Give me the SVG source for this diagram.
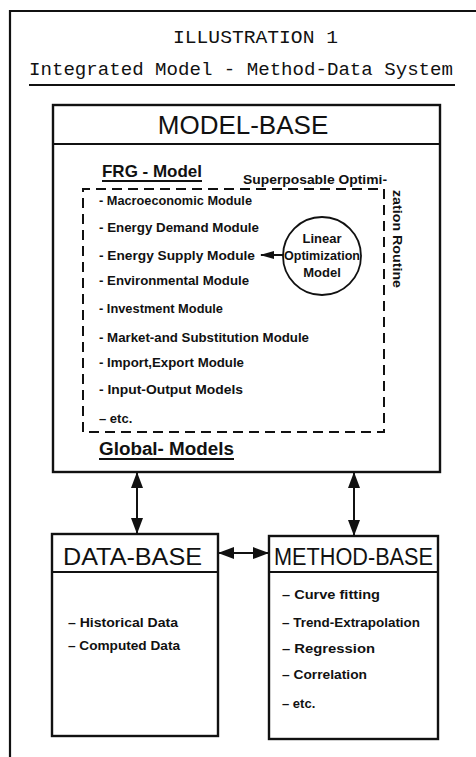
<svg xmlns="http://www.w3.org/2000/svg" width="476" height="757" viewBox="0 0 476 757">
  <style>
    .frame { fill: none; stroke: #111; stroke-width: 2.2; }
    .box { fill: #fff; stroke: #111; stroke-width: 2.4; }
    .rule { stroke: #111; stroke-width: 2.2; fill: none; }
    .dash { fill: none; stroke: #111; stroke-width: 2; stroke-dasharray: 10 6; }
    .mono { font-family: "Liberation Mono", "DejaVu Sans Mono", monospace; fill: #111; font-size: 19px; }
    .head { font-family: "Liberation Sans", Arial, sans-serif; fill: #111; }
    .item { font-family: "Liberation Sans", Arial, sans-serif; font-weight: bold; fill: #111; font-size: 13px; }
    .link { stroke: #111; stroke-width: 2; fill: none; }
  </style>
  <defs>
    <marker id="tip" viewBox="0 0 16 12" refX="15" refY="6" markerWidth="16" markerHeight="12" markerUnits="userSpaceOnUse" orient="auto-start-reverse">
      <path d="M0,0 L16,6 L0,12 Z" fill="#111"/>
    </marker>
    <marker id="tipSmall" viewBox="0 0 14 10" refX="13" refY="5" markerWidth="14" markerHeight="10" markerUnits="userSpaceOnUse" orient="auto">
      <path d="M0,1 L14,5 L0,9 Z" fill="#111"/>
    </marker>
  </defs>

  <rect width="476" height="757" fill="#fff"/>

  <!-- outer frame, open to the right and bottom -->
  <path class="frame" d="M10,757 L10,11 L476,11"/>

  <!-- title block -->
  <g id="title">
    <text class="mono" x="173" y="43" textLength="165" lengthAdjust="spacingAndGlyphs">ILLUSTRATION 1</text>
    <text class="mono" x="29" y="75" textLength="424" lengthAdjust="spacingAndGlyphs">Integrated Model - Method-Data System</text>
    <line class="rule" x1="29" y1="85" x2="455" y2="85" stroke-width="1.8"/>
  </g>

  <!-- model base -->
  <g id="model-base">
    <rect class="box" x="53" y="105" width="387" height="367"/>
    <line class="rule" x1="53" y1="144" x2="440" y2="144"/>
    <text class="head" x="243" y="134" font-size="26" text-anchor="middle">MODEL-BASE</text>
    <text class="head" x="102" y="177" font-size="17" font-weight="bold" textLength="100" lengthAdjust="spacingAndGlyphs">FRG - Model</text>
    <line class="rule" x1="102" y1="181" x2="202" y2="181" stroke-width="1.6"/>
    <text class="head" x="99" y="455" font-size="18" font-weight="bold" textLength="135" lengthAdjust="spacingAndGlyphs">Global- Models</text>
    <line class="rule" x1="99" y1="459" x2="234" y2="459" stroke-width="1.6"/>
  </g>

  <!-- module frame with optimization routine -->
  <g id="frg-modules">
    <path class="dash" d="M83,432 L83,189 L384,189 L384,432 Z"/>
    <text class="head" x="243" y="184" font-size="13" font-weight="bold" textLength="144" lengthAdjust="spacingAndGlyphs">Superposable Optimi-</text>
    <text class="head" font-size="13" font-weight="bold" transform="translate(393,190) rotate(90)" textLength="98" lengthAdjust="spacingAndGlyphs">zation Routine</text>
    <text class="item" x="99" y="205" textLength="153" lengthAdjust="spacingAndGlyphs">- Macroeconomic Module</text>
    <text class="item" x="99" y="232" textLength="160" lengthAdjust="spacingAndGlyphs">- Energy Demand Module</text>
    <text class="item" x="99" y="260" textLength="156" lengthAdjust="spacingAndGlyphs">- Energy Supply Module</text>
    <text class="item" x="99" y="285" textLength="150" lengthAdjust="spacingAndGlyphs">- Environmental Module</text>
    <text class="item" x="99" y="313" textLength="124" lengthAdjust="spacingAndGlyphs">- Investment Module</text>
    <text class="item" x="99" y="342" textLength="210" lengthAdjust="spacingAndGlyphs">- Market-and Substitution Module</text>
    <text class="item" x="99" y="367" textLength="145" lengthAdjust="spacingAndGlyphs">- Import,Export Module</text>
    <text class="item" x="99" y="394" textLength="144" lengthAdjust="spacingAndGlyphs">- Input-Output Models</text>
    <text class="item" x="99" y="423">– etc.</text>
  </g>

  <!-- linear optimization model -->
  <g id="linear-optimization">
    <circle cx="322" cy="256" r="39" fill="#fff" stroke="#111" stroke-width="1.8"/>
    <text class="item" x="322" y="243" text-anchor="middle" font-size="13">Linear</text>
    <text class="item" x="322" y="260" text-anchor="middle" font-size="12.5" textLength="76" lengthAdjust="spacingAndGlyphs">Optimization</text>
    <text class="item" x="322" y="277" text-anchor="middle" font-size="13">Model</text>
  </g>

  <!-- data base -->
  <g id="data-base">
    <rect class="box" x="52" y="534" width="166" height="202"/>
    <line class="rule" x1="52" y1="572" x2="218" y2="572"/>
    <text class="head" x="63" y="565" font-size="24.5" textLength="139" lengthAdjust="spacingAndGlyphs">DATA-BASE</text>
    <text class="item" x="68" y="627" font-size="14" textLength="110" lengthAdjust="spacingAndGlyphs">– Historical Data</text>
    <text class="item" x="68" y="650" font-size="14" textLength="112" lengthAdjust="spacingAndGlyphs">– Computed Data</text>
  </g>

  <!-- method base -->
  <g id="method-base">
    <rect class="box" x="269" y="536" width="169" height="203"/>
    <line class="rule" x1="269" y1="572" x2="438" y2="572"/>
    <text class="head" x="274" y="565" font-size="24.5" textLength="159" lengthAdjust="spacingAndGlyphs">METHOD-BASE</text>
    <text class="item" x="282" y="599" font-size="13.5" textLength="98" lengthAdjust="spacingAndGlyphs">– Curve fitting</text>
    <text class="item" x="282" y="627" font-size="13.5" textLength="138" lengthAdjust="spacingAndGlyphs">– Trend-Extrapolation</text>
    <text class="item" x="282" y="653" font-size="13.5" textLength="93" lengthAdjust="spacingAndGlyphs">– Regression</text>
    <text class="item" x="282" y="679" font-size="13.5" textLength="85" lengthAdjust="spacingAndGlyphs">– Correlation</text>
    <text class="item" x="282" y="708" font-size="13.5">– etc.</text>
  </g>

  <!-- connectors -->
  <g id="connectors">
    <line class="link" x1="283" y1="255" x2="261" y2="255" marker-end="url(#tipSmall)"/>
    <line class="link" x1="137" y1="473" x2="137" y2="533" marker-start="url(#tip)" marker-end="url(#tip)"/>
    <line class="link" x1="354" y1="473" x2="354" y2="535" marker-start="url(#tip)" marker-end="url(#tip)"/>
    <line class="link" x1="219" y1="553" x2="268" y2="553" marker-start="url(#tip)" marker-end="url(#tip)"/>
  </g>
</svg>
